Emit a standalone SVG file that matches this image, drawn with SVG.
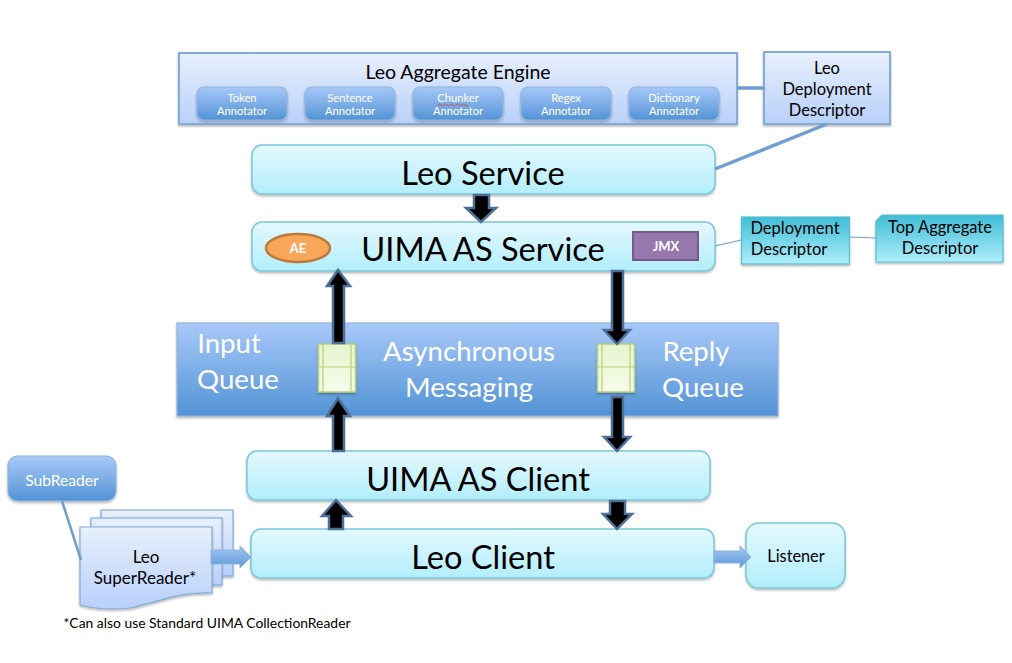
<svg xmlns="http://www.w3.org/2000/svg" width="1012" height="663" viewBox="0 0 1012 663">
<style>
text{font-family:Lato,"Open Sans","Liberation Sans",sans-serif;text-anchor:middle;fill:#000}
.w{fill:#fff}
.ann{font-size:11.200px;fill:#fff}
.big{font-size:32.600px}
.mid{font-size:16.500px}
.q{font-size:27.600px;fill:#fff}
.cy{fill:url(#cyan);stroke:#7cc8d8;stroke-width:1.5;filter:url(#sh)}
.lb{fill:url(#lav);stroke:#84acd6;stroke-width:2;filter:url(#sh)}
.bl{fill:url(#blue);stroke:#8fb4dc;stroke-width:1.2;filter:url(#sh)}
.tl{fill:url(#teal);stroke:#58bdd0;stroke-width:1.2;filter:url(#sh)}
.ar{fill:#000;stroke:#4e6f96;stroke-width:2.5;stroke-linejoin:miter}
.ln{fill:none;stroke:#6f9fd0}
.fa{fill:url(#fat);stroke:#8db3df;stroke-width:1}
.qc{fill:url(#qg);stroke:#b5d07c;stroke-width:1.5;filter:url(#sh)}
.ql{fill:none;stroke:#b5d07c;stroke-width:1.2}
</style>
<defs>
<linearGradient id="cyan" x1="0" y1="0" x2="0" y2="1"><stop offset="0" stop-color="#e4f8fe"/><stop offset="1" stop-color="#b2eefc"/></linearGradient>
<linearGradient id="lav" x1="0" y1="0" x2="0" y2="1"><stop offset="0" stop-color="#e8f0fd"/><stop offset="1" stop-color="#b8d0fa"/></linearGradient>
<linearGradient id="blue" x1="0" y1="0" x2="0" y2="1"><stop offset="0" stop-color="#a8c9f9"/><stop offset="1" stop-color="#5393d5"/></linearGradient>
<linearGradient id="teal" x1="0" y1="0" x2="0" y2="1"><stop offset="0" stop-color="#3fbdd6"/><stop offset="1" stop-color="#aeeefb"/></linearGradient>
<linearGradient id="qg" x1="0" y1="0" x2="0" y2="1"><stop offset="0" stop-color="#e6f4cf"/><stop offset="1" stop-color="#f6fcea"/></linearGradient>
<linearGradient id="fat" x1="0" y1="0" x2="0" y2="1"><stop offset="0" stop-color="#a5c7f3"/><stop offset="1" stop-color="#5e9adb"/></linearGradient>
<filter id="sh" x="-10%" y="-15%" width="120%" height="135%"><feDropShadow dx="0" dy="1.5" stdDeviation="1.2" flood-color="#000" flood-opacity="0.3"/></filter>
</defs>

<g id="leo-aggregate-engine">
<rect class="lb" x="179" y="53" width="558" height="71"/>
<text x="458" y="79" style="font-size:19.500px">Leo Aggregate Engine</text>
</g>
<g id="token-annotator"><rect class="bl" x="197" y="87" width="90" height="33" rx="7"/><text class="ann" x="242" y="102">Token</text><text class="ann" x="242" y="115">Annotator</text></g>
<g id="sentence-annotator"><rect class="bl" x="305" y="87" width="90" height="33" rx="7"/><text class="ann" x="350" y="102">Sentence</text><text class="ann" x="350" y="115">Annotator</text></g>
<g id="chunker-annotator"><rect class="bl" x="413" y="87" width="90" height="33" rx="7"/><text class="ann" x="458" y="102">Chunker</text><text class="ann" x="458" y="115">Annotator</text><path d="M438 105q1.500 -2 3 0t3 0t3 0t3 0t3 0t3 0t3 0t3 0t3 0t3 0" fill="none" stroke="#d84040" stroke-width="0.9"/></g>
<g id="regex-annotator"><rect class="bl" x="521" y="87" width="90" height="33" rx="7"/><text class="ann" x="566" y="102">Regex</text><text class="ann" x="566" y="115">Annotator</text></g>
<g id="dictionary-annotator"><rect class="bl" x="629" y="87" width="90" height="33" rx="7"/><text class="ann" x="674" y="102">Dictionary</text><text class="ann" x="674" y="115">Annotator</text></g>

<g id="leo-deployment-descriptor">
<rect class="lb" x="764" y="52" width="126" height="72"/>
<text class="mid" x="827" y="74">Leo</text><text class="mid" x="827" y="95">Deployment</text><text class="mid" x="827" y="116">Descriptor</text>
</g>

<g id="leo-service"><rect class="cy" x="252" y="145" width="463" height="49" rx="10"/><text class="big" x="483" y="185">Leo Service</text></g>

<g id="uima-as-service"><rect class="cy" x="252" y="222" width="463" height="49" rx="10"/><text class="big" x="483" y="261">UIMA AS Service</text></g>
<g id="ae"><ellipse cx="298" cy="248" rx="32" ry="14" fill="#f8a65a" stroke="#bb7a3a" stroke-width="2.5"/><text x="298" y="253" class="w" style="font-size:13px;font-weight:700">AE</text></g>
<g id="jmx"><rect x="633" y="232" width="65" height="28" fill="#9778ad" stroke="#745a88" stroke-width="2"/><text x="666" y="251" class="w" style="font-size:13px;font-weight:700">JMX</text></g>

<g id="deployment-descriptor"><rect class="tl" x="741.500" y="217" width="108" height="47"/><text class="mid" x="795" y="234">Deployment</text><text class="mid" x="789" y="255">Descriptor</text></g>
<g id="top-aggregate-descriptor"><path class="tl" d="M882 215H1003V262H876V221Z"/><text class="mid" x="940" y="233">Top Aggregate</text><text class="mid" x="940" y="254">Descriptor</text></g>

<g id="asynchronous-messaging">
<rect class="bl" x="177" y="323" width="601" height="93"/>
<text class="q" x="229" y="353">Input</text><text class="q" x="238" y="389">Queue</text>
<text class="q" x="469" y="361">Asynchronous</text><text class="q" x="469" y="397">Messaging</text>
<text class="q" x="696" y="361">Reply</text><text class="q" x="703" y="397">Queue</text>
</g>
<g id="input-queue"><rect class="qc" x="318.500" y="344" width="37" height="48"/><path class="ql" d="M318.500 367H355.500M323 344V392M351 344V392"/></g>
<g id="reply-queue"><rect class="qc" x="597.500" y="344" width="37" height="48"/><path class="ql" d="M597.500 367H634.500M602 344V392M630 344V392"/></g>

<g id="uima-as-client"><rect class="cy" x="247" y="451" width="463" height="49" rx="10"/><text class="big" x="478" y="491">UIMA AS Client</text></g>
<g id="leo-client"><rect class="cy" x="251" y="529" width="463" height="49" rx="10"/><text class="big" x="483" y="569">Leo Client</text></g>
<g id="listener"><rect class="cy" x="746" y="523" width="99" height="65" rx="13"/><text x="796" y="562" style="font-size:16.300px">Listener</text></g>

<g id="subreader"><rect class="bl" x="8" y="456" width="108" height="45" rx="10"/><text x="62" y="486" class="w" style="font-size:15.600px">SubReader</text></g>

<g id="leo-superreader">
<rect class="lb" style="stroke-width:1.200" x="101" y="510" width="132" height="66"/>
<rect class="lb" style="stroke-width:1.200" x="91" y="518" width="131" height="67"/>
<path class="lb" style="stroke-width:1.200" d="M80 527H212V593C180 592 165 600 130 608C110 610 95 609 80 605Z"/>
<text style="font-size:17px" x="146" y="563">Leo</text><text style="font-size:17px" x="145" y="584">SuperReader*</text>
</g>
<text x="207" y="628" style="font-size:13.900px">*Can also use Standard UIMA CollectionReader</text>

<g id="connectors">
<path class="ln" stroke-width="3.500" d="M737 88H764"/>
<path class="ln" stroke-width="3.500" d="M715 169L827 124"/>
<path class="ln" stroke-width="1.200" d="M715 246L741 240"/>
<path class="ln" stroke-width="1.200" d="M849 237L876 238"/>
<path class="ln" stroke-width="2.500" d="M62 501L81 560"/>
<path class="ar" d="M474 195H489V208H496L481 222L466 208H474Z"/>
<path class="ar" d="M333 343V286H327L338 270L350 286H344V343Z"/>
<path class="ar" d="M612 271H623V330H630L617 344L604 330H612Z"/>
<path class="ar" d="M333 451V416H327L338 398L350 416H344V451Z"/>
<path class="ar" d="M612 397H623V437H630L617 451L604 437H612Z"/>
<path class="ar" d="M329 529V516H322L336 500L351 516H343V529Z"/>
<path class="ar" d="M610 501H625V514H632L617 529L603 514H610Z"/>
<path class="fa" d="M211 550H240V546L251 557L240 568V564H211Z"/>
<path class="fa" d="M714 551H740V546L751 557L740 568V563H714Z"/>
</g>
</svg>
